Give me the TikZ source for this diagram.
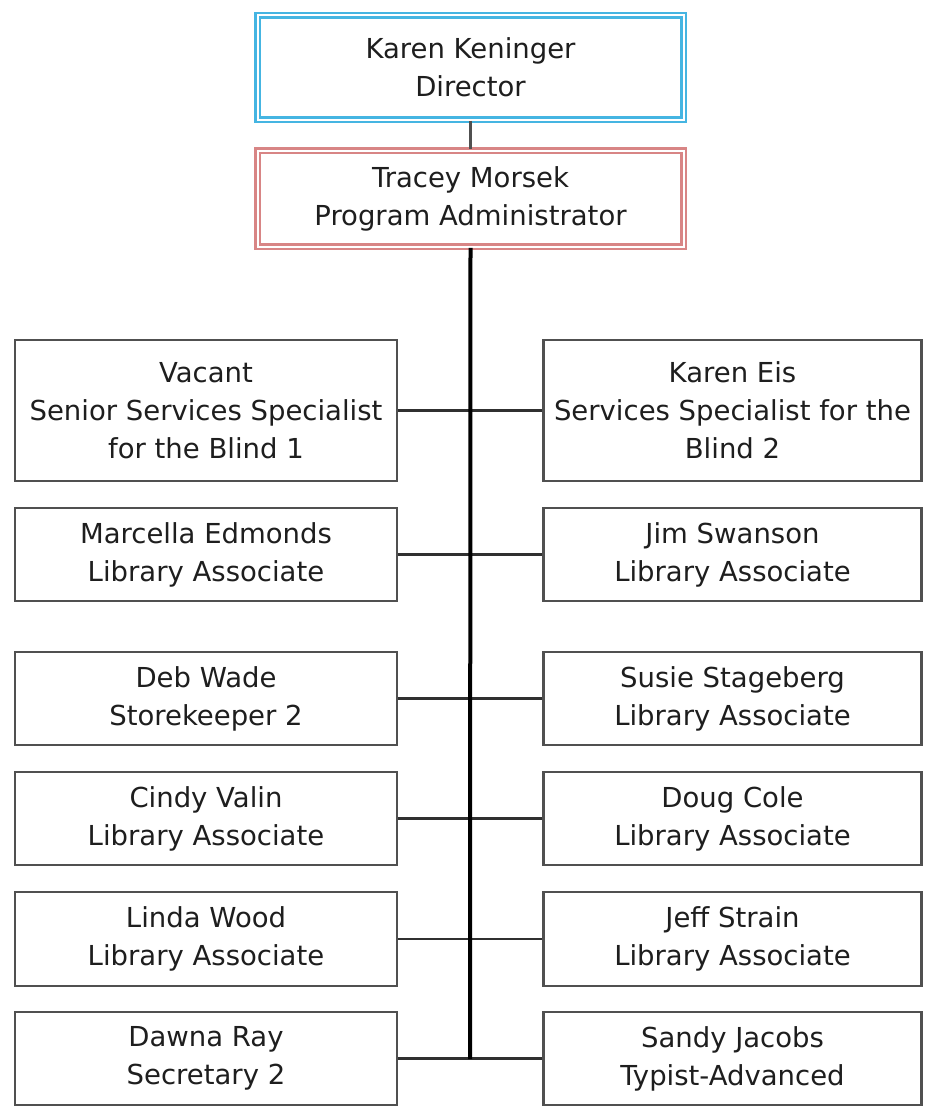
\documentclass[tikz,border=0pt]{standalone}
\usepackage{fontspec}
\setmainfont{DejaVu Sans}
\definecolor{txt}{HTML}{1E1E1E}
\definecolor{boxline}{HTML}{505050}
\definecolor{conn}{HTML}{303030}
\definecolor{dirblue}{HTML}{45B5E2}
\definecolor{admpink}{HTML}{D88585}
\begin{document}
\begin{tikzpicture}[x=1pt,y=-1pt,
  every node/.style={font=\fontsize{27.5}{38}\selectfont, text=txt, align=center, inner sep=0pt},
  person/.style={draw=boxline, line width=2.6pt, minimum height=#1, fill=white},
  leftbox/.style={person=#1, minimum width=382},
  rightbox/.style={person=#1, minimum width=378},
  topbox/.style={draw=#1, line width=2.5pt, double=white, double distance=2pt, minimum width=426},
  link/.style={draw=conn, line width=2.4pt},
  trunk/.style={draw=black, line width=4pt}]
\useasboundingbox (0,0) rectangle (924,1108);
\fill[white] (0,0) rectangle (924,1108);

\node[topbox=dirblue, minimum height=104] (dir) at (470.5,67.5) {Karen Keninger\\Director};
\node[topbox=admpink, minimum height=96] (adm) at (470.5,198.5) {Tracey Morsek\\Program Administrator};

\coordinate (trunkend) at (470,1059);
\draw[draw=boxline, line width=2.6pt] (dir.south) -- (adm.north);

% rows
\node[leftbox=141] (l1) at (206,410.5) {Vacant\\Senior Services Specialist\\for the Blind 1};
\node[rightbox=141] (r1) at (732.5,410.5) {Karen Eis\\Services Specialist for the\\Blind 2};
\node[leftbox=93] (l2) at (206,554.5) {Marcella Edmonds\\Library Associate};
\node[rightbox=93] (r2) at (732.5,554.5) {Jim Swanson\\Library Associate};
\node[leftbox=93] (l3) at (206,698.5) {Deb Wade\\Storekeeper 2};
\node[rightbox=93] (r3) at (732.5,698.5) {Susie Stageberg\\Library Associate};
\node[leftbox=93] (l4) at (206,818.5) {Cindy Valin\\Library Associate};
\node[rightbox=93] (r4) at (732.5,818.5) {Doug Cole\\Library Associate};
\node[leftbox=94] (l5) at (206,939) {Linda Wood\\Library Associate};
\node[rightbox=94] (r5) at (732.5,939) {Jeff Strain\\Library Associate};
\node[leftbox=93] (l6) at (206,1058.5) {Dawna Ray\\Secretary 2};
\node[rightbox=93] (r6) at (732.5,1058.5) {Sandy Jacobs\\Typist-Advanced};

\foreach \i in {1,...,6} {
  \draw[link] (l\i.east) -- (r\i.west);
}
\draw[trunk] (adm.south) -- (trunkend);
\end{tikzpicture}
\end{document}
